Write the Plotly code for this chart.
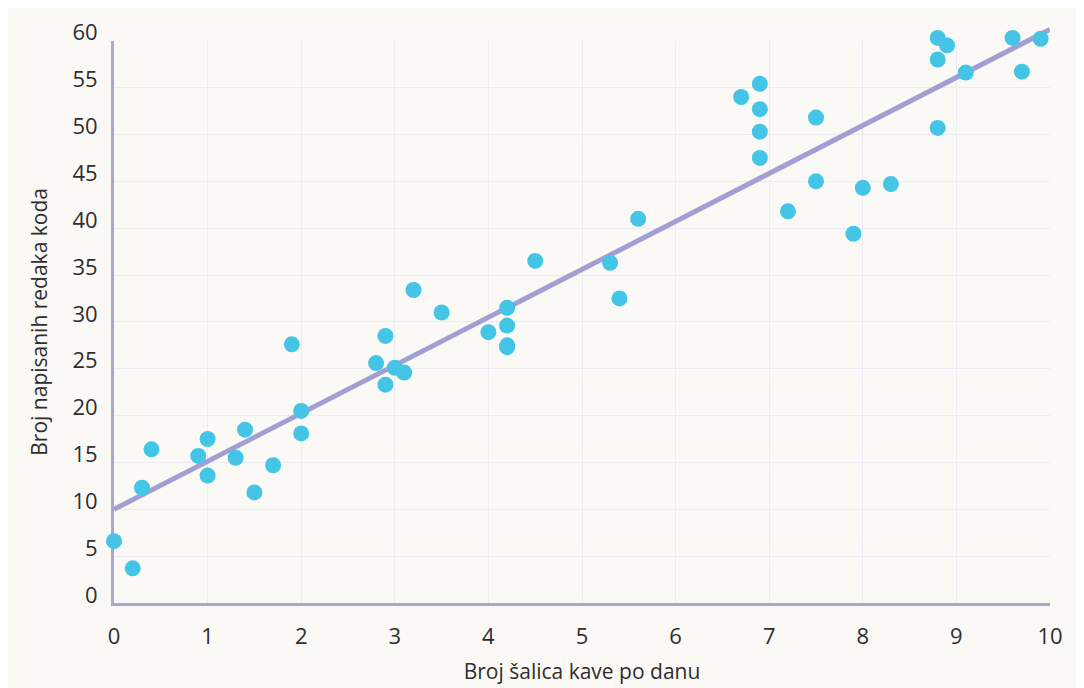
import plotly.graph_objects as go

# Data
coffee_cups = [0.0, 0.2, 0.3, 0.4, 0.9, 1.0, 1.0, 1.3, 1.4, 1.5, 1.7, 1.9, 2.0, 2.0,
               2.8, 2.9, 2.9, 3.0, 3.1, 3.2, 3.5, 4.0, 4.2, 4.2, 4.2, 4.2, 4.5,
               5.3, 5.4, 5.6, 6.7, 6.9, 6.9, 6.9, 6.9, 7.2, 7.5, 7.5, 7.9, 8.0, 8.3,
               8.8, 8.8, 8.8, 8.9, 9.1, 9.6, 9.7, 9.9]
lines_of_code = [6.6, 3.7, 12.3, 16.4, 15.7, 17.5, 13.6, 15.5, 18.5, 11.8, 14.7, 27.6, 20.5, 18.1,
                 25.6, 28.5, 23.3, 25.1, 24.6, 33.4, 31.0, 28.9, 31.5, 29.6, 27.3, 27.5, 36.5,
                 36.3, 32.5, 41.0, 54.0, 55.4, 52.7, 50.3, 47.5, 41.8, 51.8, 45.0, 39.4, 44.3, 44.7,
                 60.3, 58.0, 50.7, 59.5, 56.6, 60.3, 56.7, 60.2]

trend_x = [0, 10]
trend_y = [10.0, 61.2]

x_ticks = list(range(0, 11))
y_ticks = list(range(0, 61, 5))

x_title = "Broj šalica kave po danu"
y_title = "Broj napisanih redaka koda"

FONT = "Open Sans"
TEXT = "#2e2e2e"
GRID = "#ecebf4"
AXIS = "#a9a7d5"
BG = "#faf9f6"

Y_MAX = 60      # axis / grid range
Y_DRAW = 62     # drawing range so marks above 60 stay visible

fig = go.Figure()
# carrier trace so the grid/axes subplot is drawn
fig.add_trace(go.Scatter(
    x=[x_ticks[0]], y=[y_ticks[0]], mode="markers", xaxis="x", yaxis="y",
    marker=dict(size=1, opacity=0), hoverinfo="skip", showlegend=False,
))
fig.add_trace(go.Scatter(
    x=trend_x, y=trend_y, mode="lines", xaxis="x2", yaxis="y2",
    line=dict(color="#a29fd2", width=5),
    cliponaxis=False, hoverinfo="skip", showlegend=False,
))
fig.add_trace(go.Scatter(
    x=coffee_cups, y=lines_of_code, mode="markers", xaxis="x2", yaxis="y2",
    marker=dict(color="#45c5e5", size=16, line=dict(width=0)),
    cliponaxis=False, showlegend=False,
))

fig.update_layout(
    width=1076, height=680,
    margin=dict(l=106, r=34, t=14, b=85, autoexpand=False),
    paper_bgcolor=BG, plot_bgcolor="rgba(0,0,0,0)",
    font=dict(family=FONT, size=22, color=TEXT),
    xaxis=dict(
        domain=[0, 1], anchor="y", automargin=False,
        range=[0, 10], tickvals=x_ticks, ticktext=[str(v) for v in x_ticks],
        showgrid=True, gridcolor=GRID, gridwidth=1,
        showline=True, linecolor=AXIS, linewidth=3,
        zeroline=False, ticks="", ticklabelstandoff=12,
        title=dict(text=x_title, font=dict(size=21, color=TEXT), standoff=15),
        fixedrange=True,
    ),
    yaxis=dict(
        domain=[0, Y_MAX / Y_DRAW], anchor="x", automargin=False,
        range=[0, Y_MAX], tickvals=y_ticks, ticktext=[str(v) for v in y_ticks],
        showgrid=True, gridcolor=GRID, gridwidth=1,
        showline=True, linecolor=AXIS, linewidth=3,
        zeroline=False, ticks="", ticklabelstandoff=9, ticklabelshift=-8,
        title=dict(text=y_title, font=dict(size=21, color=TEXT), standoff=20),
        fixedrange=True,
    ),
    xaxis2=dict(domain=[0, 1], anchor="y2", range=[0, 10], visible=False,
                automargin=False, fixedrange=True),
    yaxis2=dict(domain=[0, 1], anchor="x2", range=[0, Y_DRAW], visible=False,
                automargin=False, fixedrange=True),
)

fig.write_html("out.html")
